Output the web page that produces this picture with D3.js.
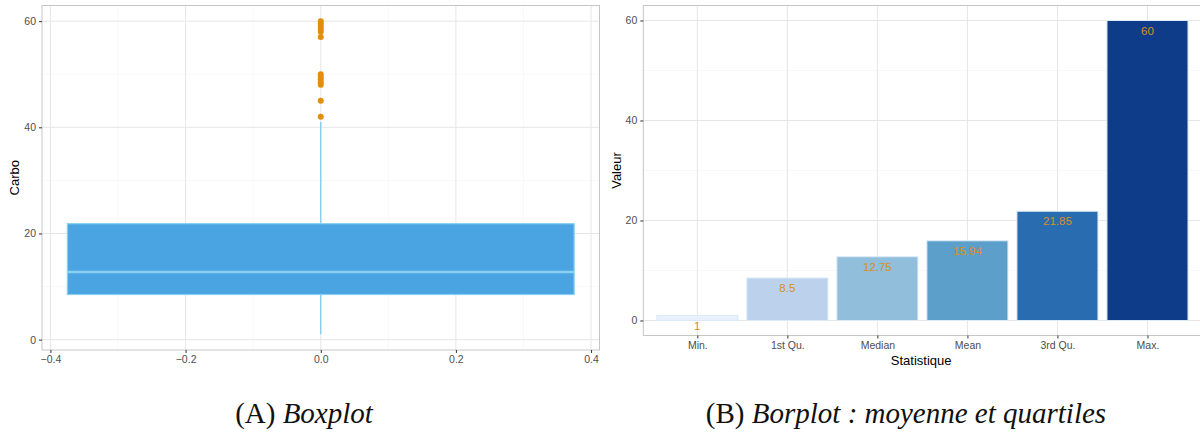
<!doctype html>
<html>
<head>
<meta charset="utf-8">
<script src="https://d3js.org/d3.v7.min.js"></script>
<style>
  body { margin: 0; background: #fff; }
  svg text { font-family: "Liberation Sans", Arial, sans-serif; }
  .tick text { fill: #4d4d4d; font-size: 10.5px; }
  .cap { font-family: "Liberation Serif", serif; font-size: 29px; fill: #111; }
</style>
</head>
<body>
<div class="graph"></div>
<script>
// boxplot (A)
var boxStats = {min: 1, q1: 8.5, median: 12.75, q3: 21.85, max: 41};
var outliers = [42, 45, 48, 48.5, 49, 49.5, 50, 57, 58, 58.5, 59, 59.5, 60];
var boxTicksX = [-0.4, -0.2, 0.0, 0.2, 0.4];
var boxTicksY = [0, 20, 40, 60];

// barplot (B)
var statNames = ["Min.", "1st Qu.", "Median", "Mean", "3rd Qu.", "Max."];
var statValues = [1, 8.5, 12.75, 15.94, 21.85, 60];
var statColors = ["#e9f0fc", "#bcd2ec", "#91bedb", "#5d9fcb", "#2a6cb0", "#0e3c88"];
var barTicksY = [0, 20, 40, 60];

var width = 1200, height = 437;
var svg = d3.select('.graph').append('svg')
  .attr('width', width).attr('height', height);

var gridMajor = '#e6e6e6', gridMinor = '#f3f3f3', border = '#c6c6c6';

// ---------- panel A ----------
var A = {left: 42, right: 599.5, top: 5.5, bottom: 350};
var xA = d3.scaleLinear().domain([-0.4125, 0.4125]).range([A.left, A.right]);
var yA = d3.scaleLinear().domain([-1.95, 62.95]).range([A.bottom, A.top]);

var gA = svg.append('g');
[-0.3, -0.1, 0.1, 0.3].forEach(function(v){
  gA.append('line').attr('x1', xA(v)).attr('x2', xA(v)).attr('y1', A.top).attr('y2', A.bottom)
    .attr('stroke', gridMinor).attr('stroke-width', 0.6);
});
[10, 30, 50].forEach(function(v){
  gA.append('line').attr('y1', yA(v)).attr('y2', yA(v)).attr('x1', A.left).attr('x2', A.right)
    .attr('stroke', gridMinor).attr('stroke-width', 0.6);
});
boxTicksX.forEach(function(v){
  gA.append('line').attr('x1', xA(v)).attr('x2', xA(v)).attr('y1', A.top).attr('y2', A.bottom)
    .attr('stroke', gridMajor).attr('stroke-width', 1);
});
boxTicksY.forEach(function(v){
  gA.append('line').attr('y1', yA(v)).attr('y2', yA(v)).attr('x1', A.left).attr('x2', A.right)
    .attr('stroke', gridMajor).attr('stroke-width', 1);
});

// whiskers
gA.append('line').attr('x1', xA(0)).attr('x2', xA(0))
  .attr('y1', yA(boxStats.q3)).attr('y2', yA(boxStats.max))
  .attr('stroke', '#87cdf0').attr('stroke-width', 1.4);
gA.append('line').attr('x1', xA(0)).attr('x2', xA(0))
  .attr('y1', yA(boxStats.q1)).attr('y2', yA(boxStats.min))
  .attr('stroke', '#87cdf0').attr('stroke-width', 1.4);
// box
gA.append('rect')
  .attr('x', xA(-0.375)).attr('width', xA(0.375) - xA(-0.375))
  .attr('y', yA(boxStats.q3)).attr('height', yA(boxStats.q1) - yA(boxStats.q3))
  .attr('fill', '#4aa4e1').attr('stroke', '#8ad0f0').attr('stroke-width', 1.2);
gA.append('line').attr('x1', xA(-0.375)).attr('x2', xA(0.375))
  .attr('y1', yA(boxStats.median)).attr('y2', yA(boxStats.median))
  .attr('stroke', '#8ad0f0').attr('stroke-width', 2.4);
// outliers
gA.selectAll('circle.out').data(outliers).enter().append('circle')
  .attr('cx', xA(0)).attr('cy', function(d){ return yA(d); })
  .attr('r', 3).attr('fill', '#e08e0b');

gA.append('rect').attr('x', A.left).attr('y', A.top)
  .attr('width', A.right - A.left).attr('height', A.bottom - A.top)
  .attr('fill', 'none').attr('stroke', border).attr('stroke-width', 1);

gA.append('g').attr('transform', 'translate(0,' + A.bottom + ')')
  .call(d3.axisBottom(xA).tickValues(boxTicksX).tickSize(3).tickPadding(3).tickFormat(d3.format('.1f')))
  .call(function(g){ g.select('.domain').remove(); g.selectAll('.tick line').attr('stroke', '#333'); });
gA.append('g').attr('transform', 'translate(' + A.left + ',0)')
  .call(d3.axisLeft(yA).tickValues(boxTicksY).tickSize(3).tickPadding(3))
  .call(function(g){ g.select('.domain').remove(); g.selectAll('.tick line').attr('stroke', '#333'); });

svg.append('text').attr('transform', 'translate(19,' + ((A.top + A.bottom) / 2) + ') rotate(-90)')
  .attr('text-anchor', 'middle').attr('font-size', 13).attr('fill', '#000').text('Carbo');

// ---------- panel B ----------
var B = {left: 643.3, right: 1201.5, top: 5.5, bottom: 335.5};
var xC = d3.scalePoint().domain(statNames).range([B.left, B.right]).padding(0.6);
var yB = d3.scaleLinear().domain([-3, 63]).range([B.bottom, B.top]);

var gB = svg.append('g');
[10, 30, 50].forEach(function(v){
  gB.append('line').attr('y1', yB(v)).attr('y2', yB(v)).attr('x1', B.left).attr('x2', B.right)
    .attr('stroke', gridMinor).attr('stroke-width', 0.6);
});
statNames.forEach(function(s){
  gB.append('line').attr('x1', xC(s)).attr('x2', xC(s)).attr('y1', B.top).attr('y2', B.bottom)
    .attr('stroke', gridMajor).attr('stroke-width', 1);
});
barTicksY.forEach(function(v){
  gB.append('line').attr('y1', yB(v)).attr('y2', yB(v)).attr('x1', B.left).attr('x2', B.right)
    .attr('stroke', gridMajor).attr('stroke-width', 1);
});

var bw = xC.step() * 0.9;
gB.selectAll('rect.bar').data(statValues).enter().append('rect')
  .attr('x', function(d, i){ return xC(statNames[i]) - bw / 2; })
  .attr('width', bw)
  .attr('y', function(d){ return yB(d); })
  .attr('height', function(d){ return yB(0) - yB(d); })
  .attr('fill', function(d, i){ return statColors[i]; })
  .attr('stroke', '#dce9f8').attr('stroke-width', 1);

gB.selectAll('text.lab').data(statValues).enter().append('text')
  .attr('x', function(d, i){ return xC(statNames[i]); })
  .attr('y', function(d){ return yB(d) + 14; })
  .attr('text-anchor', 'middle').attr('font-size', 11.5).attr('fill', '#d98f22')
  .text(function(d){ return d; });

gB.append('rect').attr('x', B.left).attr('y', B.top)
  .attr('width', B.right - B.left).attr('height', B.bottom - B.top)
  .attr('fill', 'none').attr('stroke', border).attr('stroke-width', 1);

gB.append('g').attr('transform', 'translate(0,' + B.bottom + ')')
  .call(d3.axisBottom(xC).tickSize(3).tickPadding(3))
  .call(function(g){ g.select('.domain').remove(); g.selectAll('.tick line').attr('stroke', '#333'); });
gB.append('g').attr('transform', 'translate(' + B.left + ',0)')
  .call(d3.axisLeft(yB).tickValues(barTicksY).tickSize(3).tickPadding(3))
  .call(function(g){ g.select('.domain').remove(); g.selectAll('.tick line').attr('stroke', '#333'); });

svg.append('text').attr('transform', 'translate(621,' + ((B.top + B.bottom) / 2) + ') rotate(-90)')
  .attr('text-anchor', 'middle').attr('font-size', 13).attr('fill', '#000').text('Valeur');
svg.append('text').attr('x', (B.left + 1199) / 2).attr('y', 365)
  .attr('text-anchor', 'middle').attr('font-size', 13).attr('fill', '#000').text('Statistique');

// ---------- captions ----------
var capA = svg.append('text').attr('class', 'cap').attr('x', 304).attr('y', 423).attr('text-anchor', 'middle');
capA.append('tspan').text('(A) ');
capA.append('tspan').attr('font-style', 'italic').text('Boxplot');
var capB = svg.append('text').attr('class', 'cap').attr('x', 906).attr('y', 423).attr('text-anchor', 'middle');
capB.append('tspan').text('(B) ');
capB.append('tspan').attr('font-style', 'italic').text('Borplot : moyenne et quartiles');
</script>
</body>
</html>
